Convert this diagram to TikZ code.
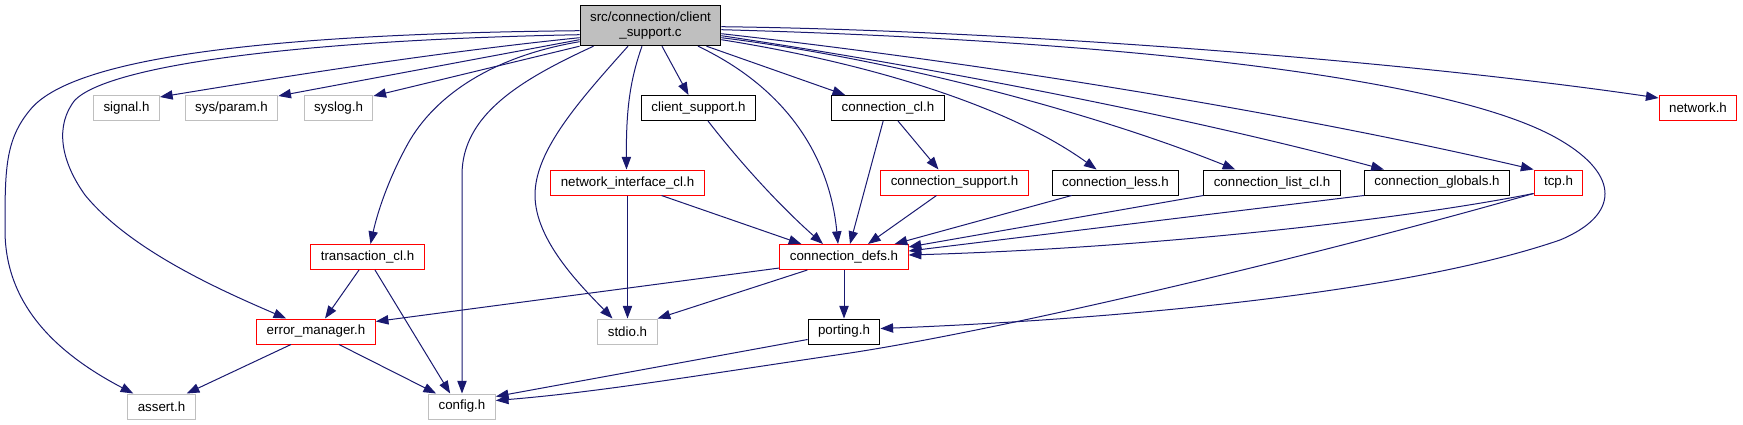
\documentclass[tikz,border=0pt]{standalone}
\usepackage{fontspec}
\setmainfont{Liberation Sans}
\usepackage{tikz}
\usetikzlibrary{arrows.meta,positioning,calc}
\definecolor{navy}{HTML}{191970}
\definecolor{greyframe}{HTML}{BFBFBF}
\definecolor{cutred}{HTML}{FF0000}
\tikzset{
  filebox/.style={draw, rectangle, inner xsep=7.5pt, inner ysep=0pt, minimum height=18.75pt,
    line width=0.75pt, font=\fontsize{10}{11.5}\selectfont, align=center},
  sysbox/.style={filebox, draw=greyframe},
  docbox/.style={filebox, draw=black},
  cutbox/.style={filebox, draw=cutred},
  rootbox/.style={filebox, draw=black, fill=greyframe, minimum height=30pt},
  incl/.style={-{Triangle[length=9.5pt,width=7pt]}, draw=navy, fill=none, line width=0.75pt},
}

\begin{document}
\begin{tikzpicture}[x=0.75pt,y=-0.75pt]
  \useasboundingbox (0,0) rectangle (1743,425);
  % root file
  \node[rootbox] (M) at (650.5,25.7) {src/connection/client\\\_support.c};
  % first row
  \node[sysbox] (signal)     at (126.5,108) {signal.h};
  \node[sysbox] (sysparam)   at (231.5,108) {sys/param.h};
  \node[sysbox] (syslog)     at (338.5,108) {syslog.h};
  \node[docbox] (clientsupp) at (698.5,108) {client\_support.h};
  \node[docbox] (conncl)     at (888,108)   {connection\_cl.h};
  \node[cutbox] (network)    at (1698,108)  {network.h};
  % second row
  \node[cutbox] (netif)    at (627.5,182.5)  {network\_interface\_cl.h};
  \node[cutbox] (connsupp) at (954.5,182.5)  {connection\_support.h};
  \node[docbox] (connless) at (1115.5,182.5) {connection\_less.h};
  \node[docbox] (connlist) at (1272,182.5)   {connection\_list\_cl.h};
  \node[docbox] (connglob) at (1437,182.5)   {connection\_globals.h};
  \node[cutbox] (tcp)      at (1558.5,182.5) {tcp.h};
  % third row
  \node[cutbox] (transcl)  at (367.5,257) {transaction\_cl.h};
  \node[cutbox] (conndefs) at (844,257)   {connection\_defs.h};
  % fourth row
  \node[cutbox] (errmgr)  at (316,331.5)   {error\_manager.h};
  \node[sysbox] (stdio)   at (627.5,331.5) {stdio.h};
  \node[docbox] (porting) at (844,331.5)   {porting.h};
  % bottom row
  \node[sysbox] (assert) at (161.5,406.5) {assert.h};
  \node[sysbox] (config) at (462,406.5)   {config.h};

  % includes of the root file
  \draw[incl] ($(M.west)+(0,12)$) .. controls (440,52) and (300,74) .. ($(signal.north east)+(0,2)$);
  \draw[incl] ($(M.west)+(0,14)$) -- ($(sysparam.north east)+(0,1)$);
  \draw[incl] (M.south west) -- ($(syslog.north east)+(0,1)$);
  \draw[incl] ($(M.west)+(0,5)$) .. controls (250,34) and (70,60) .. (30,110)
    .. controls (5,140) and (5,170) .. (5,230)
    .. controls (5,300) and (50,350) .. ($(assert.north west)+(6,0)$);
  \draw[incl] ($(M.west)+(0,9)$) .. controls (300,40) and (110,65) .. (75,100)
    .. controls (55,125) and (60,160) .. (85,195)
    .. controls (130,250) and (220,290) .. ($(errmgr.north west)+(30,0)$);
  \draw[incl] ($(M.west)+(0,16)$) .. controls (500,55) and (440,90) .. (410,140)
    .. controls (390,175) and (378,210) .. ($(transcl.north)+(3,0)$);
  \draw[incl] ($(M.south)+(-57,0)$) .. controls (520,80) and (462,115) .. (462,175) -- (config.north);
  \draw[incl] ($(M.south)+(-22.5,0)$) .. controls (580,100) and (535,150) .. (535,195)
    .. controls (535,240) and (580,285) .. ($(stdio.north)+(-15,0)$);
  \draw[incl] ($(M.south)+(-8.5,0)$) .. controls (630,80) and (626,110) .. ($(netif.north)+(-1,0)$);
  \draw[incl] ($(M.south)+(11.5,0)$) -- ($(clientsupp.north)+(-10,0)$);
  \draw[incl] ($(M.south)+(47.5,0)$) .. controls (790,90) and (830,160) .. ($(conndefs.north)+(-6,0)$);
  \draw[incl] ($(M.south)+(56,0)$) -- ($(conncl.north west)+(14,0)$);
  \draw[incl] ($(M.east)+(0,14)$) .. controls (850,60) and (1000,100) .. ($(connless.north west)+(45,0)$);
  \draw[incl] ($(M.east)+(0,12)$) .. controls (900,60) and (1100,115) .. ($(connlist.north west)+(32,0)$);
  \draw[incl] ($(M.east)+(0,10)$) .. controls (950,70) and (1200,120) .. ($(connglob.north west)+(20,0)$);
  \draw[incl] ($(M.east)+(0,8)$) .. controls (1000,65) and (1300,115) .. (tcp.north west);
  \draw[incl] ($(M.east)+(0,1)$) .. controls (1000,30) and (1400,60) .. ($(network.west)+(0,-10)$);
  \draw[incl] ($(M.east)+(0,4)$) .. controls (1100,40) and (1450,75) .. (1560,140)
    .. controls (1620,175) and (1620,215) .. (1560,240)
    .. controls (1400,295) and (1100,320) .. ($(porting.east)+(0,-3)$);

  % includes further down
  \draw[incl] ($(clientsupp.south)+(9.5,0)$) .. controls (750,175) and (790,215) .. ($(conndefs.north)+(-21,0)$);
  \draw[incl] ($(conncl.south west)+(52,0)$) -- ($(conndefs.north)+(6,0)$);
  \draw[incl] ($(conncl.south)+(10,0)$) -- ($(connsupp.north)+(-16,0)$);
  \draw[incl] (netif.south) -- (stdio.north);
  \draw[incl] ($(netif.south)+(34,0)$) -- ($(conndefs.north west)+(22,0)$);
  \draw[incl] ($(connsupp.south)+(-18,0)$) -- ($(conndefs.north)+(24,0)$);
  \draw[incl] ($(connless.south west)+(20,0)$) -- ($(conndefs.north east)+(-14,0)$);
  \draw[incl] (connlist.south west) -- ($(conndefs.east)+(0,-10)$);
  \draw[incl] (connglob.south west) -- ($(conndefs.east)+(0,-6)$);
  \draw[incl] ($(tcp.south west)+(0,-2)$) .. controls (1400,220) and (1150,248) .. ($(conndefs.east)+(0,-2)$);
  \draw[incl] ($(tcp.south west)+(0,-2)$) .. controls (1300,260) and (1000,330) .. (850,353)
    .. controls (700,375) and (600,392) .. ($(config.east)+(0,-6)$);
  \draw[incl] ($(porting.west)+(0,8)$) -- ($(config.east)+(0,-10)$);
  \draw[incl] ($(transcl.south)+(-8.5,0)$) -- ($(errmgr.north)+(9,0)$);
  \draw[incl] ($(transcl.south)+(7.5,0)$) -- ($(config.north west)+(22,0)$);
  \draw[incl] ($(conndefs.south west)+(0,-2)$) -- ($(errmgr.north east)+(0,3)$);
  \draw[incl] ($(conndefs.south west)+(28,0)$) -- (stdio.north east);
  \draw[incl] (conndefs.south) -- (porting.north);
  \draw[incl] ($(errmgr.south)+(-25,0)$) -- ($(assert.north east)+(-9,0)$);
  \draw[incl] ($(errmgr.south)+(23,0)$) -- ($(config.north west)+(8,0)$);
\end{tikzpicture}
\end{document}
